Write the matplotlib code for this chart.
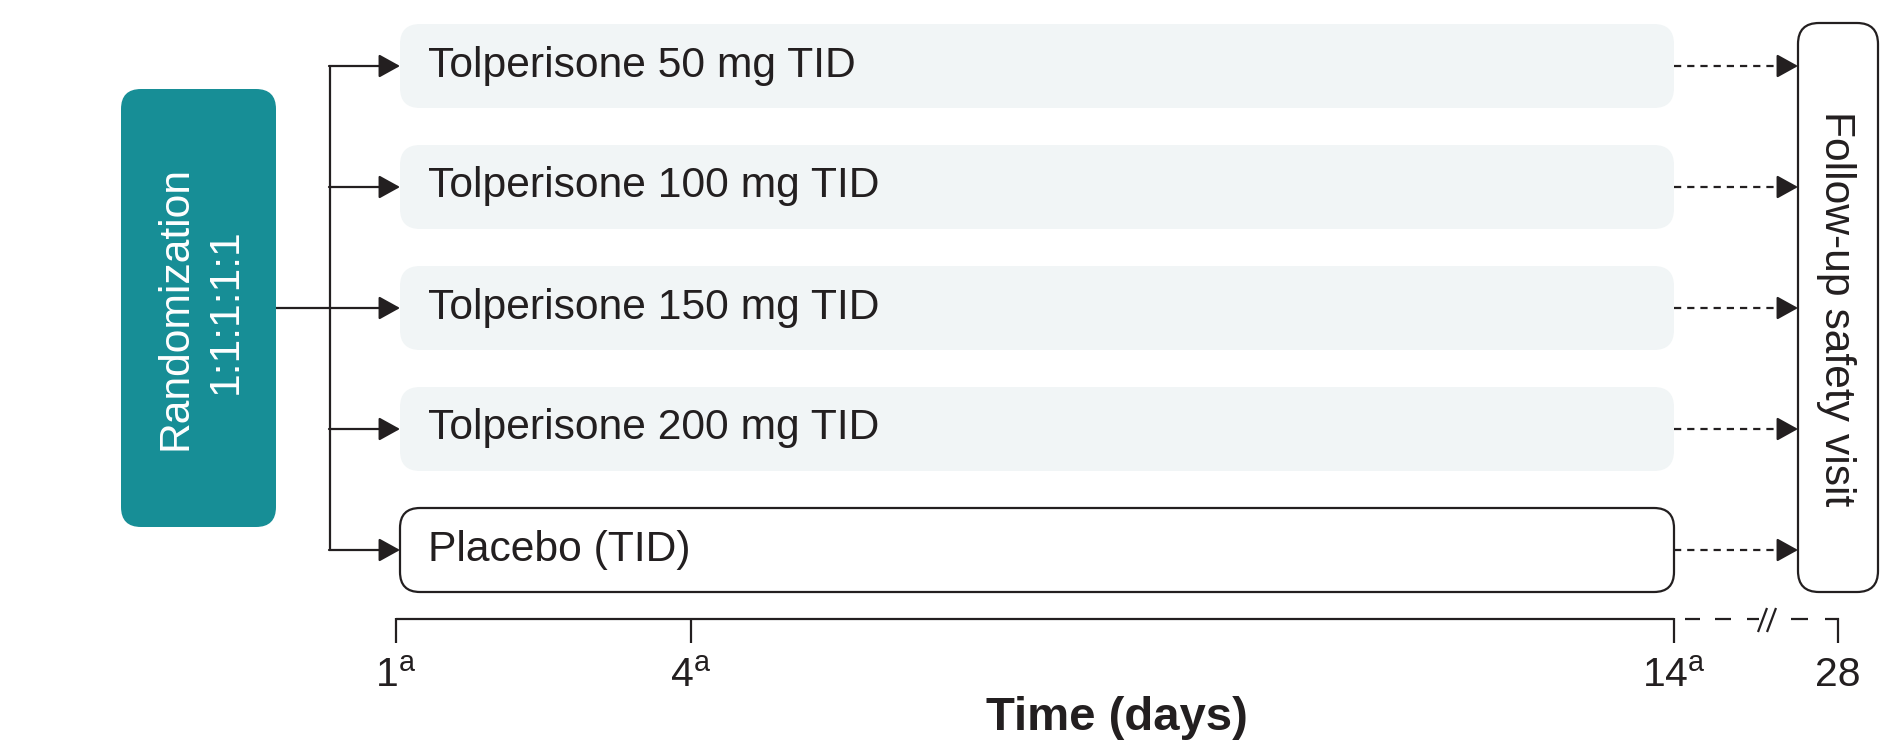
import matplotlib
matplotlib.use("Agg")
import matplotlib.pyplot as plt
from matplotlib.patches import FancyBboxPatch, FancyArrowPatch

plt.rcParams['font.family'] = ['Liberation Sans', 'DejaVu Sans']
plt.rcParams['mathtext.fontset'] = 'custom'
plt.rcParams['mathtext.rm'] = 'Liberation Sans'
plt.rcParams['mathtext.it'] = 'Liberation Sans'

# ---- content ----
arms = ["Tolperisone 50 mg TID", "Tolperisone 100 mg TID", "Tolperisone 150 mg TID",
        "Tolperisone 200 mg TID", "Placebo (TID)"]
arm_filled = [True, True, True, True, False]
randomization_lines = ["Randomization", "1:1:1:1:1"]
followup_label = "Follow-up safety visit"
tick_days = [1, 4, 14, 28]
tick_sups = ["a", "a", "a", ""]
xlabel = "Time (days)"

# ---- style ----
DARK = "#231F20"
TEAL = "#178E96"
LIGHT = "#F1F5F6"
LW = 1.6
FS = 30.7

fig = plt.figure(figsize=(19.04, 7.42), dpi=100)
ax = fig.add_axes([0, 0, 1, 1])
ax.set_xlim(0, 1904)
ax.set_ylim(742, 0)
ax.axis('off')

# timeline scale (days 1..14 linear, 28 after a break)
X_D1, X_D14, X_BREAK_END = 396, 1674, 1838
def day_x(d):
    if d <= 14:
        return X_D1 + (d - 1) * (X_D14 - X_D1) / 13.0
    return X_BREAK_END

ROW0, ROW_STEP, BOX_H = 66, 121, 84
row_y = [ROW0 + i * ROW_STEP for i in range(len(arms))]
box_left = 400
box_right = day_x(14)

# Randomization box
rx0, rx1, ry0, ry1 = 121, 276, 89, 527
ax.add_patch(FancyBboxPatch((rx0, ry0), rx1 - rx0, ry1 - ry0,
                            boxstyle="round,pad=0,rounding_size=20",
                            fc=TEAL, ec='none'))
ymid = (ry0 + ry1) / 2 + 0.5
ax.text(187, ymid, randomization_lines[0], rotation=90, rotation_mode='anchor',
        ha='center', va='baseline', color='white', fontsize=FS)
ax.text(237, ymid + 3, randomization_lines[1], rotation=90, rotation_mode='anchor',
        ha='center', va='baseline', color='white', fontsize=FS)

# bracket
BX = 330
ax.plot([rx1, BX], [row_y[2], row_y[2]], color=DARK, lw=LW, solid_capstyle='butt')
ax.plot([BX, BX], [row_y[0], row_y[-1]], color=DARK, lw=LW, solid_capstyle='butt')

def arrow(x0, x1, y):
    ax.add_patch(FancyArrowPatch((x0, y), (x1, y),
                                 arrowstyle='-|>,head_length=13,head_width=7.2',
                                 mutation_scale=1, shrinkA=0, shrinkB=0,
                                 color=DARK, lw=LW))

# Follow-up box
fx0, fx1, fy0, fy1 = 1798, 1878, 23, 592
ax.add_patch(FancyBboxPatch((fx0, fy0), fx1 - fx0, fy1 - fy0,
                            boxstyle="round,pad=0,rounding_size=21",
                            fc='white', ec=DARK, lw=LW))
ax.text(1825, 308.5, followup_label, rotation=-90, rotation_mode='anchor',
        ha='center', va='baseline', color=DARK, fontsize=FS)

for y, lab, filled in zip(row_y, arms, arm_filled):
    arrow(BX - 1, box_left, y)
    if filled:
        ax.add_patch(FancyBboxPatch((box_left, y - BOX_H / 2), box_right - box_left, BOX_H,
                                    boxstyle="round,pad=0,rounding_size=20",
                                    fc=LIGHT, ec='none'))
    else:
        ax.add_patch(FancyBboxPatch((box_left, y - BOX_H / 2), box_right - box_left, BOX_H,
                                    boxstyle="round,pad=0,rounding_size=20",
                                    fc='white', ec=DARK, lw=LW))
    ax.text(428, y + 10.5, lab, ha='left', va='baseline', color=DARK, fontsize=FS)
    # dashed connector to follow-up
    ax.plot([box_right, 1781], [y, y], color=DARK, lw=LW,
            linestyle=(0, (5.2 / LW, 4.3 / LW)), dash_capstyle='butt')
    arrow(1779, fx0, y)

# timeline
TY, TICK_LEN = 619, 24
ax.plot([day_x(1), day_x(14)], [TY, TY], color=DARK, lw=LW, solid_capstyle='butt')
for d in tick_days:
    x = day_x(d)
    ax.plot([x, x], [TY - 0.7, TY + TICK_LEN], color=DARK, lw=LW, solid_capstyle='butt')
# broken dashed segment
seg_dash = dict(color=DARK, lw=LW, solid_capstyle='butt')
for a, b in [(1685, 1700), (1715, 1731), (1747, 1759), (1791, 1808), (1825, day_x(28) + 0.7)]:
    ax.plot([a, b], [TY, TY], **seg_dash)
for sx in (1758, 1767):
    ax.plot([sx, sx + 9], [TY + 13, TY - 11], **seg_dash)

for d, s in zip(tick_days, tick_sups):
    lab = r'$\mathregular{%d^{%s}}$' % (d, s) if s else str(d)
    ax.text(day_x(d), 686, lab, ha='center', va='baseline', color=DARK, fontsize=29.5)

ax.text(1117, 730, xlabel, ha='center', va='baseline', color=DARK,
        fontsize=34, fontweight='bold')

fig.savefig("out.png", dpi=100)
